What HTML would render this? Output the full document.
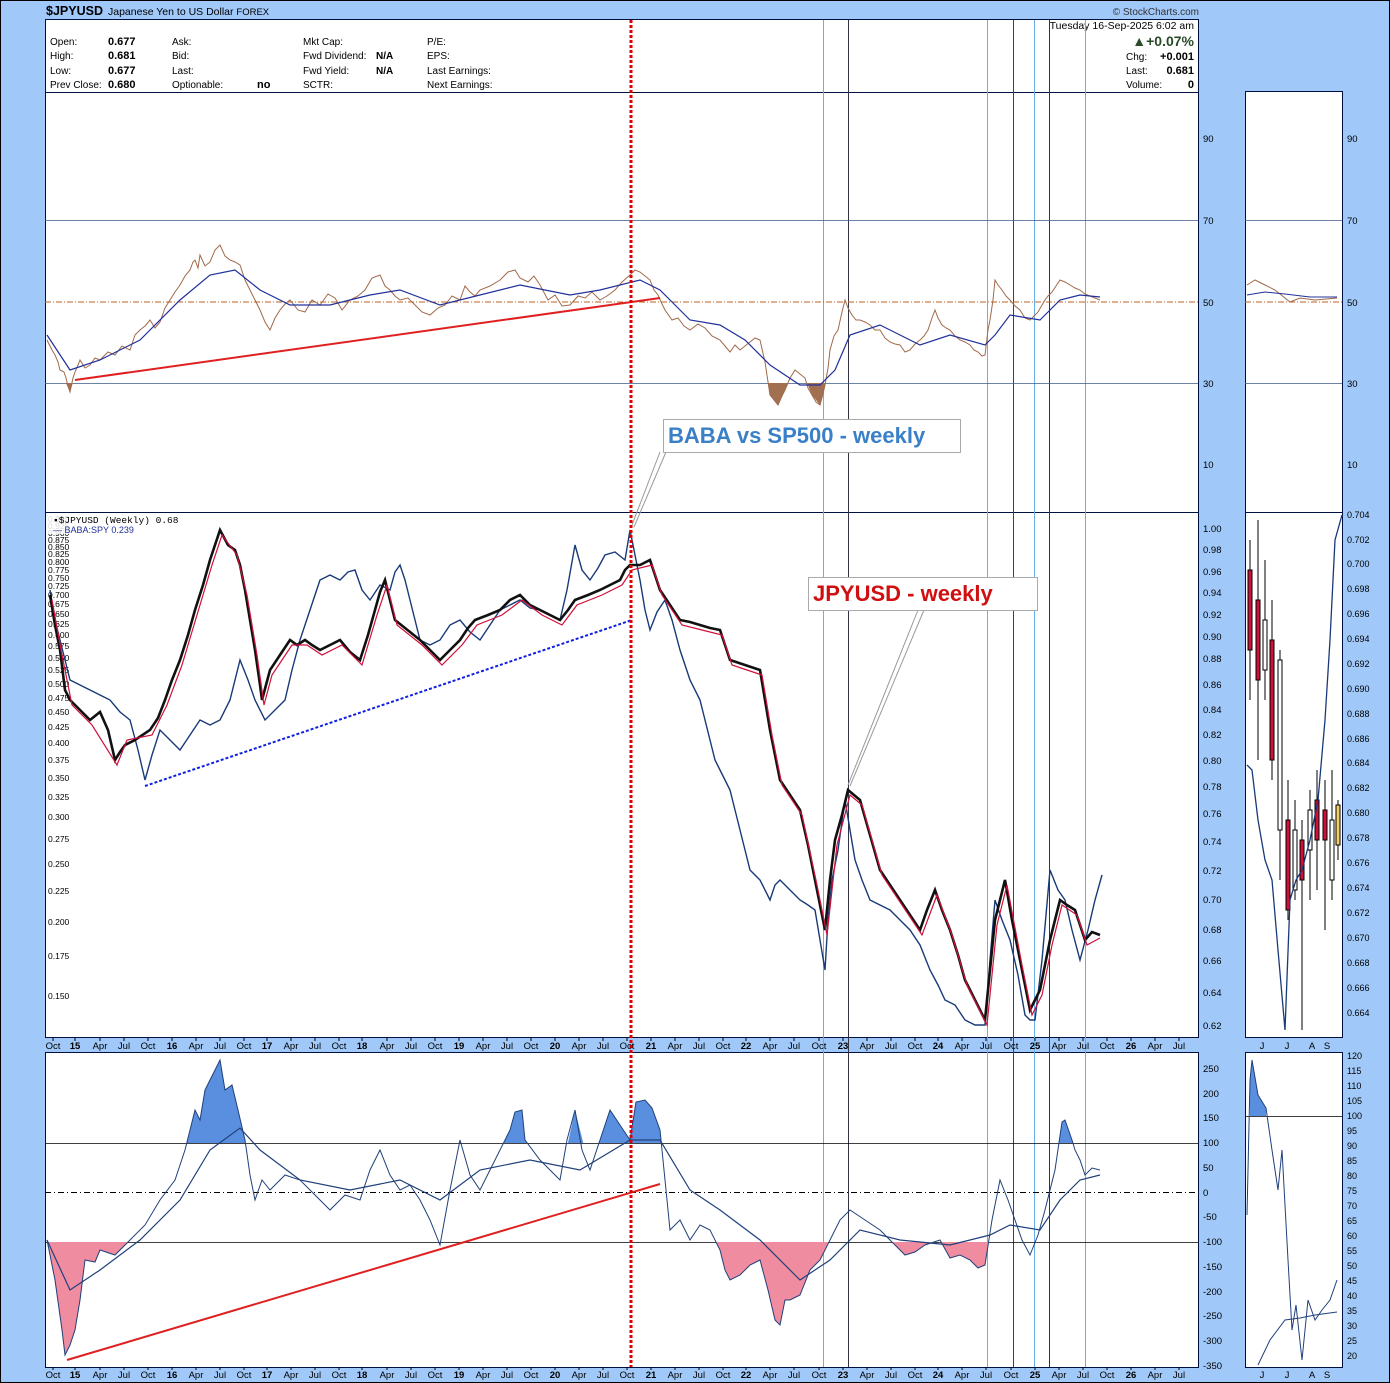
<!DOCTYPE html>
<html><head><meta charset="utf-8"><style>
html,body{margin:0;padding:0;background:#a0c8f8;}
svg{display:block;font-family:"Liberation Sans",sans-serif;}
</style></head><body>
<svg width="1390" height="1383" viewBox="0 0 1390 1383" xmlns="http://www.w3.org/2000/svg">
<defs>
<clipPath id="rsiLow"><rect x="45" y="383" width="1153" height="130"/></clipPath>
<clipPath id="cciHi"><rect x="45" y="1052" width="1153" height="91"/></clipPath>
<clipPath id="cciLo"><rect x="45" y="1242" width="1153" height="125"/></clipPath>
</defs>
<rect width="1390" height="1383" fill="#a0c8f8"/>
<rect x="0.5" y="0.5" width="1389" height="1382" fill="none" stroke="#000"/>
<text x="46" y="15" font-size="12.5" font-weight="bold">$JPYUSD</text>
<text x="108" y="15" font-size="10.5">Japanese Yen to US Dollar <tspan font-size="9.5">FOREX</tspan></text>
<text x="1199" y="15" font-size="10" text-anchor="end" fill="#333">© StockCharts.com</text>
<rect x="45.5" y="19.5" width="1153" height="1018" fill="#fff" stroke="#001040"/>
<rect x="45.5" y="1052.5" width="1153" height="315" fill="#fff" stroke="#001040"/>
<line x1="45" y1="92.5" x2="1198" y2="92.5" stroke="#001040"/>
<line x1="45" y1="512.5" x2="1198" y2="512.5" stroke="#001040"/>
<rect x="1245.5" y="91.5" width="97" height="421" fill="#fff" stroke="#001040"/>
<rect x="1245.5" y="512.5" width="97" height="525" fill="#fff" stroke="#001040"/>
<rect x="1245.5" y="1052.5" width="97" height="315" fill="#fff" stroke="#001040"/>
<g font-size="10">
<text x="50" y="45">Open:</text><text x="50" y="59">High:</text><text x="50" y="74">Low:</text><text x="50" y="88">Prev Close:</text>
<g font-weight="bold" font-size="11"><text x="108" y="45">0.677</text><text x="108" y="59">0.681</text><text x="108" y="74">0.677</text><text x="108" y="88">0.680</text></g>
<text x="172" y="45">Ask:</text><text x="172" y="59">Bid:</text><text x="172" y="74">Last:</text><text x="172" y="88">Optionable:</text><text x="257" y="88" font-weight="bold" font-size="11">no</text>
<text x="303" y="45">Mkt Cap:</text><text x="303" y="59">Fwd Dividend:</text><text x="303" y="74">Fwd Yield:</text><text x="303" y="88">SCTR:</text>
<text x="376" y="59" font-weight="bold">N/A</text><text x="376" y="74" font-weight="bold">N/A</text>
<text x="427" y="45">P/E:</text><text x="427" y="59">EPS:</text><text x="427" y="74">Last Earnings:</text><text x="427" y="88">Next Earnings:</text>
<text x="1194" y="29" text-anchor="end" font-size="10.5">Tuesday  16-Sep-2025  6:02 am</text>
<text x="1194" y="46" text-anchor="end" font-size="14" font-weight="bold" fill="#2a4a2a">▲+0.07%</text>
<text x="1126" y="60">Chg:</text><text x="1194" y="60" text-anchor="end" font-weight="bold" font-size="11">+0.001</text>
<text x="1126" y="74">Last:</text><text x="1194" y="74" text-anchor="end" font-weight="bold" font-size="11">0.681</text>
<text x="1126" y="88">Volume:</text><text x="1194" y="88" text-anchor="end" font-weight="bold" font-size="11">0</text>
</g>
<g stroke-width="1">
<line x1="823.5" y1="20" x2="823.5" y2="1367" stroke="#6ab0e8"/>
<line x1="987.5" y1="20" x2="987.5" y2="1367" stroke="#6ab0e8"/>
<line x1="1034.5" y1="20" x2="1034.5" y2="1367" stroke="#6ab0e8"/>
<line x1="1085.5" y1="20" x2="1085.5" y2="1367" stroke="#6ab0e8"/>
<line x1="848.5" y1="20" x2="848.5" y2="1367" stroke="#334"/>
<line x1="1049.5" y1="20" x2="1049.5" y2="1367" stroke="#334"/>
<line x1="1013.5" y1="20" x2="1013.5" y2="1367" stroke="#d00"/>
</g>
<g stroke="#3a5a8a" stroke-width="0.8"><line x1="45" y1="220.5" x2="1198" y2="220.5"/><line x1="45" y1="383.5" x2="1198" y2="383.5"/>
<line x1="1245" y1="220.5" x2="1342" y2="220.5"/><line x1="1245" y1="383.5" x2="1342" y2="383.5"/></g>
<line x1="45" y1="302" x2="1198" y2="302" stroke="#c06020" stroke-dasharray="6,2,1,2"/>
<line x1="1245" y1="302" x2="1342" y2="302" stroke="#c06020" stroke-dasharray="6,2,1,2"/>
<g font-size="9.5">
<text x="1203" y="142">90</text><text x="1203" y="224">70</text><text x="1203" y="306">50</text><text x="1203" y="387">30</text><text x="1203" y="468">10</text>
<text x="1347" y="142">90</text><text x="1347" y="224">70</text><text x="1347" y="306">50</text><text x="1347" y="387">30</text><text x="1347" y="468">10</text>
</g>
<polygon clip-path="url(#rsiLow)" fill="#a07050" points="47,340 60,370 70,392 80,360 100,360 130,350 150,320 170,300 190,270 200,255 220,245 240,265 260,310 270,330 290,300 320,305 350,300 380,275 400,300 430,315 460,300 480,290 515,270 540,285 570,305 600,300 630,275 650,280 665,310 690,330 720,340 740,350 760,340 770,395 778,405 785,390 795,370 805,378 812,395 820,405 825,385 830,350 845,300 860,320 880,330 900,345 920,340 935,310 950,330 970,345 985,355 995,280 1010,300 1030,320 1045,300 1060,280 1080,290 1100,300 1100,383 47,383"/>
<polyline fill="none" stroke="#a06a4a" stroke-width="1" points="47,340 52,350 55,355 58,362 60,370 64,372 66,378 68,386 70,392 73,378 75,372 78,365 80,360 85,368 90,365 95,358 100,360 108,352 115,355 122,346 130,350 135,335 140,330 145,326 150,320 155,328 160,322 165,308 170,300 175,292 180,285 185,276 190,270 193,262 195,260 198,268 200,255 205,266 210,262 215,250 220,245 225,256 230,260 235,262 240,265 245,280 250,290 255,300 260,310 265,322 270,330 275,318 280,310 285,304 290,300 298,310 305,312 312,300 320,305 328,294 335,298 342,310 350,300 358,296 365,290 372,278 380,275 385,286 390,290 395,296 400,300 408,298 415,305 422,312 430,315 438,308 445,305 452,296 460,300 465,286 470,292 475,296 480,290 490,286 500,280 508,272 515,270 520,278 528,282 534,276 540,285 548,300 555,295 562,306 570,305 578,296 585,298 592,292 600,300 607,296 615,290 622,282 630,275 635,270 640,272 645,276 650,280 654,290 658,295 662,304 665,310 672,320 678,318 684,326 690,330 698,324 705,328 712,336 720,340 725,346 730,352 735,345 740,350 745,346 750,342 755,338 760,340 765,362 770,395 774,400 778,405 782,396 785,390 790,378 795,370 800,374 805,378 808,388 812,395 816,402 820,405 823,394 825,385 828,368 830,350 834,336 838,330 842,312 845,300 848,308 852,315 856,320 860,320 865,322 870,325 875,330 880,330 885,338 890,342 895,344 900,345 905,352 910,350 915,344 920,340 924,336 928,330 932,318 935,310 938,318 942,325 946,328 950,330 955,336 960,340 965,342 970,345 974,350 978,352 982,356 985,355 988,330 990,320 993,300 995,280 998,285 1002,290 1006,296 1010,300 1015,306 1020,310 1025,318 1030,320 1034,316 1038,312 1042,305 1045,300 1048,296 1052,292 1056,286 1060,280 1065,282 1070,285 1075,288 1080,290 1085,294 1090,296 1095,298 1100,300"/>
<polyline fill="none" stroke="#20309a" stroke-width="1.2" points="47,335 70,370 100,360 140,340 180,300 210,275 235,270 260,290 290,305 330,305 370,295 400,290 440,305 480,295 520,285 570,295 600,290 640,280 660,290 690,320 720,325 745,340 770,365 800,385 820,385 835,370 850,335 880,325 920,345 950,335 985,345 995,335 1010,315 1040,320 1060,300 1080,295 1100,297"/>
<line x1="75" y1="380" x2="660" y2="298" stroke="#e02020" stroke-width="2"/>
<polyline fill="none" stroke="#a06a4a" points="1247,285 1255,280 1265,285 1275,290 1290,302 1300,298 1315,300 1337,298"/>
<polyline fill="none" stroke="#20309a" points="1247,295 1265,292 1285,294 1310,297 1337,297"/>
<g font-size="8.5" fill="#000">
<text x="48" y="522">0.950</text><text x="48" y="529">0.925</text><text x="48" y="536">0.900</text><text x="48" y="543">0.875</text><text x="48" y="550">0.850</text><text x="48" y="557">0.825</text><text x="48" y="565">0.800</text><text x="48" y="573">0.775</text><text x="48" y="581">0.750</text><text x="48" y="589">0.725</text><text x="48" y="598">0.700</text><text x="48" y="607">0.675</text><text x="48" y="617">0.650</text><text x="48" y="627">0.625</text><text x="48" y="638">0.600</text><text x="48" y="649">0.575</text><text x="48" y="661">0.550</text><text x="48" y="673">0.525</text><text x="48" y="687">0.500</text><text x="48" y="701">0.475</text><text x="48" y="715">0.450</text><text x="48" y="730">0.425</text><text x="48" y="746">0.400</text><text x="48" y="763">0.375</text><text x="48" y="781">0.350</text><text x="48" y="800">0.325</text><text x="48" y="820">0.300</text><text x="48" y="842">0.275</text><text x="48" y="867">0.250</text><text x="48" y="894">0.225</text><text x="48" y="925">0.200</text><text x="48" y="959">0.175</text><text x="48" y="999">0.150</text>
</g>
<rect x="47" y="514" width="150" height="20" fill="#fff" opacity="0.85"/>
<text x="53" y="523" font-size="9.5" font-family="Liberation Mono,monospace">▪$JPYUSD (Weekly) 0.68</text>
<text x="53" y="533" font-size="9" fill="#20309a">— BABA:SPY 0.239</text>
<g font-size="9.5">
<text x="1203" y="532">1.00</text><text x="1203" y="553">0.98</text><text x="1203" y="575">0.96</text><text x="1203" y="596">0.94</text><text x="1203" y="618">0.92</text><text x="1203" y="640">0.90</text><text x="1203" y="662">0.88</text><text x="1203" y="688">0.86</text><text x="1203" y="713">0.84</text><text x="1203" y="738">0.82</text><text x="1203" y="764">0.80</text><text x="1203" y="790">0.78</text><text x="1203" y="817">0.76</text><text x="1203" y="845">0.74</text><text x="1203" y="874">0.72</text><text x="1203" y="903">0.70</text><text x="1203" y="933">0.68</text><text x="1203" y="964">0.66</text><text x="1203" y="996">0.64</text><text x="1203" y="1029">0.62</text>
</g>
<g font-size="9">
<text x="1347" y="518">0.704</text><text x="1347" y="543">0.702</text><text x="1347" y="567">0.700</text><text x="1347" y="592">0.698</text><text x="1347" y="617">0.696</text><text x="1347" y="642">0.694</text><text x="1347" y="667">0.692</text><text x="1347" y="692">0.690</text><text x="1347" y="717">0.688</text><text x="1347" y="742">0.686</text><text x="1347" y="766">0.684</text><text x="1347" y="791">0.682</text><text x="1347" y="816">0.680</text><text x="1347" y="841">0.678</text><text x="1347" y="866">0.676</text><text x="1347" y="891">0.674</text><text x="1347" y="916">0.672</text><text x="1347" y="941">0.670</text><text x="1347" y="966">0.668</text><text x="1347" y="991">0.666</text><text x="1347" y="1016">0.664</text>
</g>
<polyline fill="none" stroke="#183a78" stroke-width="1.4" points="50,590 55,620 60,640 65,660 70,680 80,685 90,690 100,695 110,700 120,712 130,720 138,750 145,780 152,755 160,730 170,740 180,750 190,735 200,720 210,725 220,720 230,700 240,660 248,680 255,700 265,720 275,710 285,700 292,670 300,640 310,610 320,580 330,575 340,580 348,572 355,570 362,590 370,600 380,585 390,590 395,572 400,565 405,580 410,600 415,620 420,640 430,645 440,640 450,625 460,620 470,632 480,640 490,625 500,610 510,605 520,600 530,608 540,610 550,615 560,620 567,590 575,545 582,570 590,580 598,568 605,555 615,552 625,560 630,530 635,555 640,580 645,610 650,630 657,612 665,600 672,620 680,650 690,680 700,700 710,740 715,760 720,770 725,780 730,790 735,810 740,830 745,850 750,870 760,880 770,900 775,885 780,880 790,890 800,900 808,905 815,910 820,940 825,970 828,920 832,880 838,850 845,800 850,830 855,860 862,880 870,900 880,905 890,910 900,920 910,930 920,945 930,970 938,985 945,1000 955,1005 965,1020 975,1025 985,1025 990,960 995,900 1002,920 1010,940 1018,975 1025,1015 1030,1020 1035,1020 1042,960 1050,870 1058,890 1065,900 1072,930 1080,960 1088,930 1095,900 1102,875"/>
<polyline fill="none" stroke="#111" stroke-width="2.6" points="50,595 55,625 60,650 65,690 70,700 80,710 90,720 100,712 108,730 115,760 120,752 125,745 135,740 150,730 158,718 165,700 172,680 180,660 188,635 195,610 203,585 210,560 215,545 220,530 228,545 235,550 240,565 245,590 250,620 255,650 260,685 262,700 266,685 270,670 280,655 290,640 297,645 305,640 312,645 320,650 330,645 340,640 350,652 360,660 368,635 375,610 380,592 385,580 390,600 395,620 405,628 420,640 430,650 440,660 450,650 460,640 468,628 475,620 488,615 500,610 510,600 520,595 530,605 540,610 550,615 560,620 568,610 575,600 588,595 600,590 610,585 620,580 625,570 630,565 640,565 650,560 655,575 660,590 670,605 680,620 690,622 700,625 710,628 720,630 725,645 730,660 745,665 760,670 765,700 770,730 775,755 780,780 790,795 800,810 808,845 815,880 820,905 825,930 830,880 835,840 842,815 848,790 854,795 860,800 870,835 880,870 890,885 900,900 910,915 920,930 927,910 935,890 942,910 950,930 958,955 965,980 975,1000 985,1020 990,970 995,920 1000,900 1005,880 1012,920 1020,960 1025,985 1030,1010 1035,1000 1040,990 1045,965 1050,940 1055,920 1060,900 1067,905 1075,910 1080,925 1085,940 1092,932 1100,935"/>
<polyline fill="none" stroke="#d0103a" stroke-width="1.2" points="52,600 62,655 72,705 92,725 117,765 127,740 152,735 167,705 182,665 197,615 212,565 222,535 237,555 247,595 257,655 264,705 272,675 292,645 307,645 322,655 342,645 362,665 377,615 387,585 397,625 422,645 442,665 462,645 477,625 502,615 522,600 542,615 562,625 577,605 602,595 622,585 632,570 652,565 662,595 682,625 702,630 722,635 732,665 762,675 772,735 782,785 802,815 817,885 827,935 837,845 850,795 862,805 882,875 902,905 922,935 937,895 952,935 967,985 987,1025 997,925 1007,885 1022,965 1032,1015 1042,995 1052,945 1062,905 1077,915 1087,945 1100,938"/>
<line x1="145" y1="786" x2="632" y2="620" stroke="#1020e0" stroke-width="2" stroke-dasharray="3,2"/>
<g stroke="#000" stroke-width="1">
<line x1="1250" y1="540" x2="1250" y2="700"/><rect x="1248" y="570" width="4" height="80" fill="#d0103a"/>
<line x1="1258" y1="520" x2="1258" y2="760"/><rect x="1256" y="600" width="4" height="80" fill="#d0103a"/>
<line x1="1265" y1="560" x2="1265" y2="700"/><rect x="1263" y="620" width="4" height="50" fill="#fff"/>
<line x1="1272" y1="600" x2="1272" y2="780"/><rect x="1270" y="640" width="4" height="120" fill="#d0103a"/>
<line x1="1280" y1="650" x2="1280" y2="880"/><rect x="1278" y="660" width="4" height="170" fill="#fff"/>
<line x1="1288" y1="780" x2="1288" y2="920"/><rect x="1286" y="820" width="4" height="90" fill="#d0103a"/>
<line x1="1295" y1="800" x2="1295" y2="900"/><rect x="1293" y="830" width="4" height="60" fill="#fff"/>
<line x1="1302" y1="820" x2="1302" y2="1030"/><rect x="1300" y="840" width="4" height="40" fill="#d0103a"/>
<line x1="1310" y1="790" x2="1310" y2="900"/><rect x="1308" y="810" width="4" height="40" fill="#fff"/>
<line x1="1317" y1="770" x2="1317" y2="890"/><rect x="1315" y="800" width="4" height="40" fill="#d0103a"/>
<line x1="1325" y1="780" x2="1325" y2="930"/><rect x="1323" y="810" width="4" height="30" fill="#d0103a"/>
<line x1="1332" y1="770" x2="1332" y2="900"/><rect x="1330" y="820" width="4" height="60" fill="#fff"/>
<line x1="1338" y1="800" x2="1338" y2="860"/><rect x="1336" y="805" width="4" height="40" fill="#f0d060"/>
</g>
<polyline fill="none" stroke="#183a78" stroke-width="1.3" points="1247,765 1252,770 1258,820 1265,860 1272,880 1278,950 1285,1030 1290,900 1296,880 1302,870 1310,840 1318,800 1325,720 1330,640 1335,540 1342,515"/>
<line x1="660" y1="452" x2="632" y2="525" stroke="#999"/><line x1="666" y1="452" x2="634" y2="527" stroke="#999"/>
<rect x="663.5" y="419.5" width="297" height="33" fill="#fff" stroke="#aaa"/>
<text x="668" y="443" font-size="22" font-weight="bold" fill="#3a80c8">BABA vs SP500 - weekly</text>
<line x1="918" y1="610" x2="848" y2="785" stroke="#999"/><line x1="924" y1="610" x2="850" y2="786" stroke="#999"/>
<rect x="808.5" y="577.5" width="229" height="33" fill="#fff" stroke="#aaa"/>
<text x="813" y="601" font-size="22" font-weight="bold" fill="#d01010">JPYUSD - weekly</text>
<g stroke="#000" stroke-width="0.8"><line x1="45" y1="1143.5" x2="1198" y2="1143.5"/><line x1="45" y1="1242.5" x2="1198" y2="1242.5"/>
<line x1="1245" y1="1116.5" x2="1342" y2="1116.5"/></g>
<line x1="45" y1="1192.5" x2="1198" y2="1192.5" stroke="#000" stroke-dasharray="6,3,1,3"/>
<polygon clip-path="url(#cciHi)" fill="#5a8fe0" points="47,1240 55,1280 65,1355 75,1330 85,1260 100,1250 130,1240 160,1200 185,1150 195,1110 200,1120 205,1090 210,1080 215,1070 220,1060 225,1090 232,1085 238,1110 245,1140 255,1200 270,1190 300,1180 330,1210 360,1200 380,1150 400,1190 420,1200 440,1245 460,1140 480,1190 510,1130 515,1112 522,1110 525,1140 540,1160 560,1180 575,1110 590,1170 600,1140 610,1110 620,1125 630,1140 636,1102 645,1100 652,1108 660,1130 670,1230 690,1240 710,1230 730,1280 760,1260 780,1320 790,1300 810,1270 830,1240 850,1210 880,1230 910,1245 940,1240 970,1260 985,1265 1000,1180 1015,1220 1030,1255 1045,1210 1055,1170 1062,1122 1065,1120 1072,1140 1075,1150 1085,1175 1100,1170 1100,1143 47,1143"/>
<polygon clip-path="url(#cciLo)" fill="#f08ca0" points="47,1240 55,1280 62,1330 65,1355 70,1345 75,1330 80,1300 85,1260 95,1262 100,1250 115,1255 130,1240 160,1200 700,1200 710,1230 720,1250 725,1270 730,1280 740,1275 750,1265 760,1260 768,1290 775,1320 780,1325 785,1300 790,1300 800,1295 810,1270 820,1260 830,1240 850,1210 880,1230 895,1245 905,1255 915,1252 925,1245 940,1240 950,1258 960,1255 970,1260 978,1268 985,1265 1000,1180 1100,1180 1100,1242 47,1242"/>
<polyline fill="none" stroke="#20407a" stroke-width="1" points="47,1240 55,1280 62,1330 65,1355 70,1345 75,1330 80,1300 85,1260 95,1262 100,1250 115,1255 130,1240 145,1225 160,1200 175,1180 185,1150 195,1110 200,1120 205,1090 210,1080 215,1070 220,1060 225,1090 232,1085 238,1110 245,1140 250,1175 255,1200 262,1180 270,1190 285,1175 300,1180 315,1195 330,1210 345,1195 360,1200 370,1170 380,1150 390,1175 400,1190 410,1185 420,1200 430,1220 440,1245 450,1190 460,1140 470,1175 480,1190 495,1160 510,1130 515,1112 522,1110 525,1140 540,1160 550,1170 560,1180 567,1140 575,1110 582,1150 590,1170 600,1140 610,1110 620,1125 630,1140 636,1102 645,1100 652,1108 660,1130 665,1180 670,1230 680,1220 690,1240 700,1225 710,1230 720,1250 725,1270 730,1280 740,1275 750,1265 760,1260 768,1290 775,1320 780,1325 785,1300 790,1300 800,1295 810,1270 820,1260 830,1240 840,1220 850,1210 865,1220 880,1230 895,1245 905,1255 915,1252 925,1245 940,1240 950,1258 960,1255 970,1260 978,1268 985,1265 992,1220 1000,1180 1008,1200 1015,1220 1022,1240 1030,1255 1038,1235 1045,1210 1050,1190 1055,1170 1062,1122 1065,1120 1072,1140 1075,1150 1080,1160 1085,1175 1092,1168 1100,1170"/>
<polyline fill="none" stroke="#20407a" stroke-width="1.2" points="47,1240 70,1290 100,1270 140,1240 180,1200 210,1150 240,1128 260,1150 300,1180 350,1190 400,1180 440,1200 480,1170 530,1160 580,1170 630,1140 660,1140 690,1190 720,1210 760,1240 800,1280 830,1260 860,1230 900,1240 950,1245 990,1235 1010,1225 1040,1230 1060,1200 1080,1180 1100,1175"/>
<line x1="67" y1="1360" x2="660" y2="1184" stroke="#e02020" stroke-width="2"/>
<polygon fill="#5a8fe0" points="1250,1080 1252,1060 1258,1095 1266,1108 1266,1116 1250,1116"/>
<polyline fill="none" stroke="#20407a" points="1247,1215 1250,1080 1252,1060 1258,1095 1266,1108 1272,1150 1278,1190 1282,1150 1288,1260 1292,1330 1296,1305 1302,1360 1308,1300 1315,1320 1322,1310 1330,1300 1337,1280"/>
<polyline fill="none" stroke="#20407a" points="1258,1365 1270,1340 1285,1320 1300,1318 1315,1315 1337,1312"/>
<g font-size="9.5">
<text x="1203" y="1072">250</text><text x="1203" y="1097">200</text><text x="1203" y="1121">150</text><text x="1203" y="1146">100</text><text x="1203" y="1171">50</text><text x="1203" y="1196">0</text><text x="1203" y="1220">-50</text><text x="1203" y="1245">-100</text><text x="1203" y="1270">-150</text><text x="1203" y="1295">-200</text><text x="1203" y="1319">-250</text><text x="1203" y="1344">-300</text><text x="1203" y="1369">-350</text>
</g>
<g font-size="9">
<text x="1347" y="1059">120</text><text x="1347" y="1074">115</text><text x="1347" y="1089">110</text><text x="1347" y="1104">105</text><text x="1347" y="1119">100</text><text x="1347" y="1134">95</text><text x="1347" y="1149">90</text><text x="1347" y="1164">85</text><text x="1347" y="1179">80</text><text x="1347" y="1194">75</text><text x="1347" y="1209">70</text><text x="1347" y="1224">65</text><text x="1347" y="1239">60</text><text x="1347" y="1254">55</text><text x="1347" y="1269">50</text><text x="1347" y="1284">45</text><text x="1347" y="1299">40</text><text x="1347" y="1314">35</text><text x="1347" y="1329">30</text><text x="1347" y="1344">25</text><text x="1347" y="1359">20</text>
</g>
<line x1="631" y1="20" x2="631" y2="1367" stroke="#e00000" stroke-width="3" stroke-dasharray="3,2"/>
<g font-size="9.5" text-anchor="middle">
<g id="ax1">
<text x="53" y="1049">Oct</text><text x="75" y="1049" font-weight="bold">15</text><text x="100" y="1049">Apr</text><text x="124" y="1049">Jul</text>
<text x="148" y="1049">Oct</text><text x="172" y="1049" font-weight="bold">16</text><text x="196" y="1049">Apr</text><text x="220" y="1049">Jul</text>
<text x="244" y="1049">Oct</text><text x="267" y="1049" font-weight="bold">17</text><text x="291" y="1049">Apr</text><text x="315" y="1049">Jul</text>
<text x="339" y="1049">Oct</text><text x="362" y="1049" font-weight="bold">18</text><text x="387" y="1049">Apr</text><text x="411" y="1049">Jul</text>
<text x="435" y="1049">Oct</text><text x="459" y="1049" font-weight="bold">19</text><text x="483" y="1049">Apr</text><text x="507" y="1049">Jul</text>
<text x="531" y="1049">Oct</text><text x="555" y="1049" font-weight="bold">20</text><text x="579" y="1049">Apr</text><text x="603" y="1049">Jul</text>
<text x="627" y="1049">Oct</text><text x="651" y="1049" font-weight="bold">21</text><text x="675" y="1049">Apr</text><text x="699" y="1049">Jul</text>
<text x="723" y="1049">Oct</text><text x="746" y="1049" font-weight="bold">22</text><text x="770" y="1049">Apr</text><text x="794" y="1049">Jul</text>
<text x="819" y="1049">Oct</text><text x="843" y="1049" font-weight="bold">23</text><text x="867" y="1049">Apr</text><text x="891" y="1049">Jul</text>
<text x="915" y="1049">Oct</text><text x="938" y="1049" font-weight="bold">24</text><text x="962" y="1049">Apr</text><text x="986" y="1049">Jul</text>
<text x="1011" y="1049">Oct</text><text x="1035" y="1049" font-weight="bold">25</text><text x="1059" y="1049">Apr</text><text x="1083" y="1049">Jul</text>
<text x="1107" y="1049">Oct</text><text x="1131" y="1049" font-weight="bold">26</text><text x="1155" y="1049">Apr</text><text x="1179" y="1049">Jul</text>
<path d="M53,1038v3M75,1038v3M100,1038v3M124,1038v3M148,1038v3M172,1038v3M196,1038v3M220,1038v3M244,1038v3M267,1038v3M291,1038v3M315,1038v3M339,1038v3M362,1038v3M387,1038v3M411,1038v3M435,1038v3M459,1038v3M483,1038v3M507,1038v3M531,1038v3M555,1038v3M579,1038v3M603,1038v3M627,1038v3M651,1038v3M675,1038v3M699,1038v3M723,1038v3M746,1038v3M770,1038v3M794,1038v3M819,1038v3M843,1038v3M867,1038v3M891,1038v3M915,1038v3M938,1038v3M962,1038v3M986,1038v3M1011,1038v3M1035,1038v3M1059,1038v3M1083,1038v3M1107,1038v3M1131,1038v3M1155,1038v3M1179,1038v3" stroke="#000" stroke-width="1"/>
</g>
<use href="#ax1" y="329"/>
<text x="1262" y="1049">J</text><text x="1287" y="1049">J</text><text x="1312" y="1049">A</text><text x="1327" y="1049">S</text>
<text x="1262" y="1378">J</text><text x="1287" y="1378">J</text><text x="1312" y="1378">A</text><text x="1327" y="1378">S</text>
</g>
</svg>
</body></html>
